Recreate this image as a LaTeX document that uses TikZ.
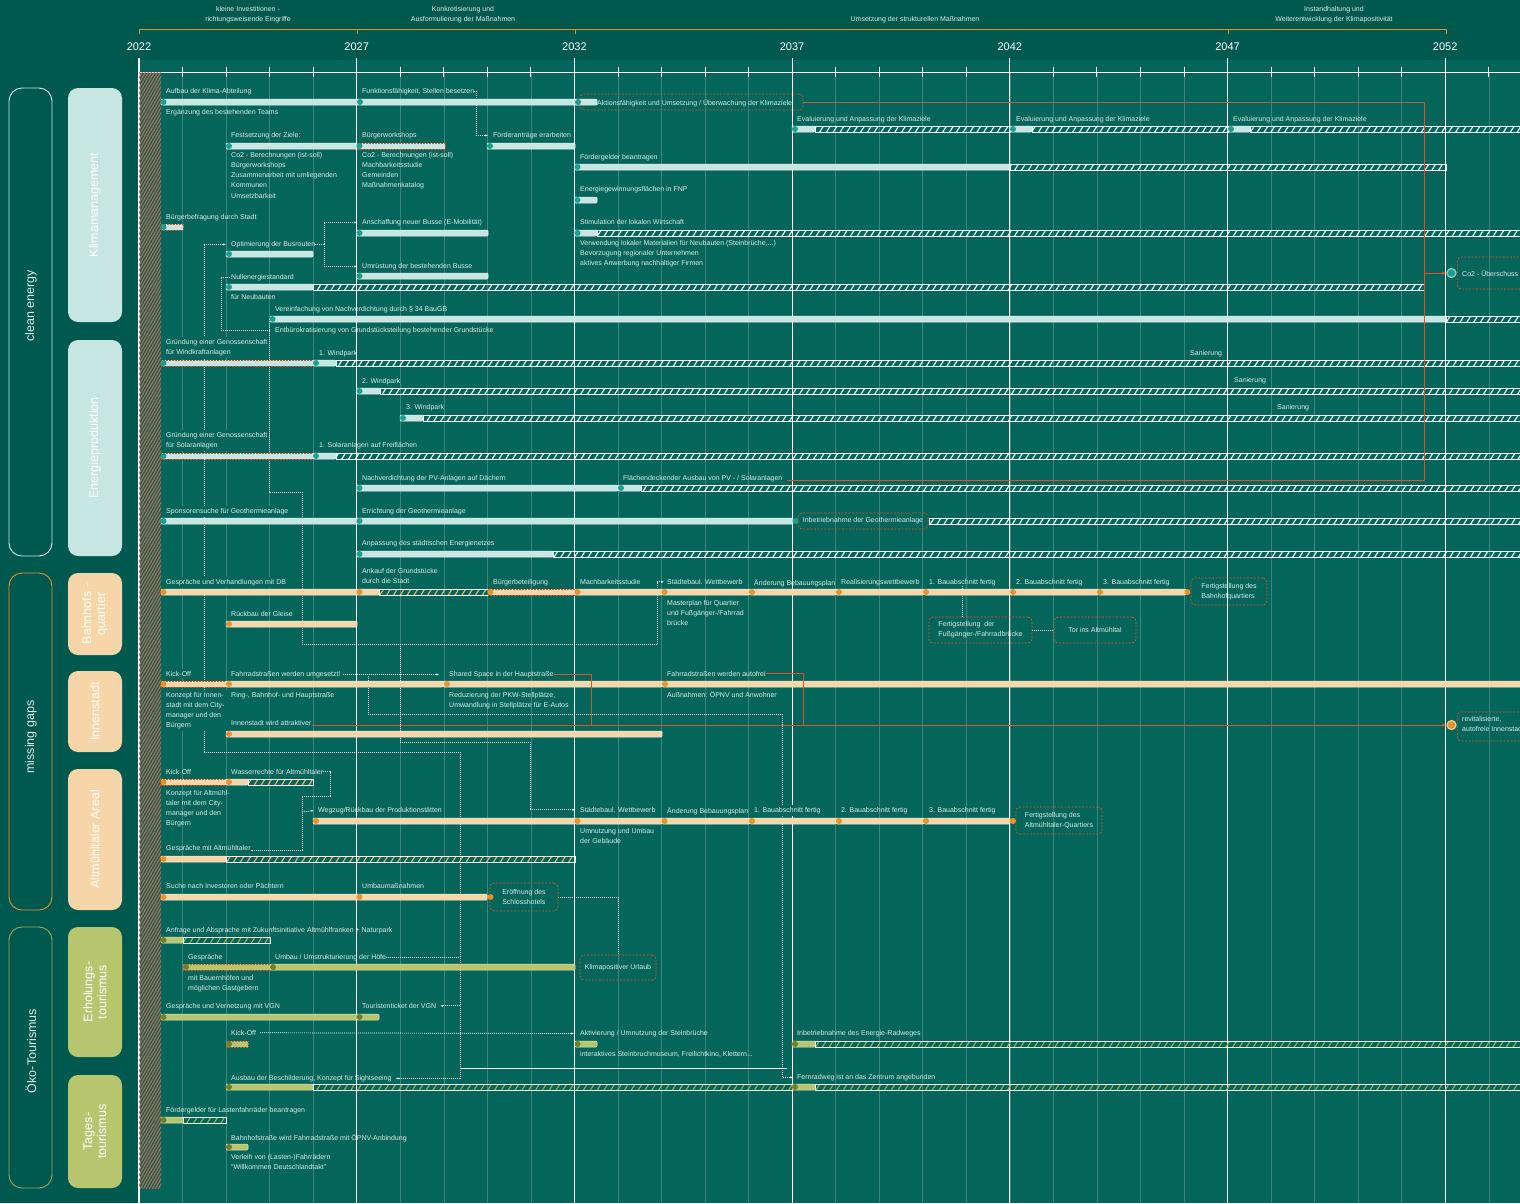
\documentclass[tikz,border=0pt]{standalone}
\usepackage{fontspec}
\setmainfont{Liberation Sans}
\usetikzlibrary{arrows.meta, patterns.meta, positioning, calc}

\definecolor{bgdark}{HTML}{00594F}
\definecolor{chartbg}{HTML}{04665A}
\definecolor{lbltext}{HTML}{DCEAE7}
\definecolor{kmfill}{HTML}{C8E6E1}
\definecolor{kmdotc}{HTML}{1BA08E}
\definecolor{bqfill}{HTML}{F6D6A8}
\definecolor{bqdotc}{HTML}{E8922A}
\definecolor{bqstripe}{HTML}{EDBB6E}
\definecolor{otfill}{HTML}{B8C56F}
\definecolor{otdotc}{HTML}{6F802C}
\definecolor{otstripe}{HTML}{9FAF4E}
\definecolor{redl}{HTML}{D9532C}
\definecolor{hdrc}{HTML}{E8901C}
\definecolor{bandc}{HTML}{C8664F}

\pgfdeclarelayer{bg}
\pgfdeclarelayer{links}
\pgfsetlayers{bg,links,main}

% one phase of a measure: style, start, end, row
\newcommand{\phase}[4]{\path[#1] (#2,#4-3) rectangle (#3,#4+3);}
% milestone dot: [extra options], style, x, row
\newcounter{msno}
\newcommand{\ms}[4][]{\stepcounter{msno}\node[#2,#1] (ms\themsno) at (#3,#4) {};}

\begin{document}
\begin{tikzpicture}[x=1pt, y=-1pt,
  lbl/.style={anchor=north west, inner sep=0pt, align=left, text=lbltext, font=\fontsize{7}{10.2}\selectfont},
  ko/.style={fill=chartbg, inner sep=2pt, xshift=-2pt, yshift=2pt},
  hd/.style={inner sep=0pt, align=center, text=lbltext, font=\fontsize{7}{10}\selectfont},
  yr/.style={inner sep=0pt, text=white, font=\fontsize{11}{11}\selectfont},
  minor/.style={white, opacity=.22, line width=.5pt},
  major/.style={white, line width=1.2pt},
  tickm/.style={white, line width=.8pt},
  cat/.style={draw=#1, line width=.9pt, rounded corners=13pt, inner sep=0pt},
  cattext/.style={rotate=90, inner sep=0pt, text=lbltext, font=\fontsize{12.5}{14}\selectfont},
  sub/.style={fill=#1, rounded corners=10pt, inner sep=0pt, rotate=90, align=center,
    text=white, font=\fontsize{12.5}{14}\selectfont},
  kmb/.style={fill=kmfill, draw=white!55!kmfill, line width=.5pt, rounded corners=1pt},
  kmr/.style={fill=kmfill, draw=redl, dash pattern=on .6pt off .9pt, line width=.45pt},
  kmh/.style={draw=white!85!kmfill, line width=.5pt,
    pattern={Lines[angle=58,distance=5.8pt,line width=1.1pt]}, pattern color=white},
  bqb/.style={fill=bqfill, draw=white!55!bqfill, line width=.5pt, rounded corners=1pt},
  bqr/.style={fill=bqfill, draw=redl, dash pattern=on .6pt off .9pt, line width=.45pt},
  bqh/.style={draw=white!85!bqfill, line width=.5pt,
    pattern={Lines[angle=58,distance=5.8pt,line width=1.1pt]}, pattern color=bqstripe},
  otb/.style={fill=otfill, draw=white!55!otfill, line width=.5pt, rounded corners=1pt},
  otr/.style={fill=otfill, draw=redl, dash pattern=on .6pt off .9pt, line width=.45pt},
  oth/.style={draw=white!80!otfill, line width=.5pt,
    pattern={Lines[angle=58,distance=5.8pt,line width=1.1pt]}, pattern color=otstripe},
  kmd/.style={circle, fill=kmdotc, inner sep=0pt, minimum size=6pt},
  bqd/.style={circle, fill=bqdotc, inner sep=0pt, minimum size=6pt},
  otd/.style={circle, fill=otdotc, inner sep=0pt, minimum size=6pt},
  goal/.style={circle, fill=#1, draw=#1!55!white, line width=1.3pt, inner sep=0pt, minimum size=9pt},
  msbox/.style={draw=redl, dash pattern=on 2pt off 1.5pt, line width=.7pt, rounded corners=4pt,
    inner sep=0pt, align=left, text=lbltext, font=\fontsize{7}{10.2}\selectfont},
  conn/.style={white, dash pattern=on 1pt off 1pt, line width=.7pt},
  tip/.style={-{Latex[length=2.6pt,width=2.2pt]}},
  redline/.style={redl, line width=.8pt},
  redtip/.style={-{Latex[length=4pt,width=3.5pt]}},
  wl/.style={white, line width=.7pt}
]
  \useasboundingbox (0,0) rectangle (1520,1203);
  \clip (0,0) rectangle (1520,1203);

  \begin{pgfonlayer}{bg}
  \fill[bgdark] (0,0) rectangle (1520,1203);
  \fill[chartbg] (139,60) rectangle (1520,1203);

  % Time axis
  \foreach \k in {0,...,31}
    \draw[minor] (139+43.54*\k,72) -- (139+43.54*\k,1203);
  \foreach \k in {1,...,31}
    \draw[tickm] (139+43.54*\k,67) -- (139+43.54*\k,77);
  \draw[tickm] (139,72) -- (1520,72);
  \foreach \k in {0,5,...,30}
    \draw[major] (139+43.54*\k,58) -- (139+43.54*\k,1203);

  % Start band
  \fill[pattern={Lines[angle=60,distance=2.6pt,line width=1.1pt]}, pattern color=bandc]
    (139,72) rectangle (161,1188);
  \end{pgfonlayer}

  \foreach \k/\yr in {0/2022,5/2027,10/2032,15/2037,20/2042,25/2047,30/2052}
    \node[yr] (y\yr) at (139+43.54*\k,47) {\yr};

  % Phases
  \draw[hdrc, line width=.9pt] (139,34) -- (139,29) -- (1446,29) -- (1446,34);
  \foreach \x in {357,575,1228}
    \draw[hdrc, line width=.9pt] (\x,29) -- (\x,34);
  \node[hd] (ph1) at (248,15) {kleine Investitionen -\\richtungsweisende Eingriffe};
  \node[hd] (ph2) at (463,15) {Konkretisierung und\\Ausformulierung der Maßnahmen};
  \node[hd] (ph3) at (915,20) {Umsetzung der strukturellen Maßnahmen};
  \node[hd] (ph4) at (1334,15) {Instandhaltung und\\Weiterentwicklung der Klimapositivität};

  % Categories
  \node[cat=kmfill!80!white, minimum width=43pt, minimum height=468pt] (clean) at (30.5,322) {};
  \node[cattext] (cleant) at (31,306) {clean energy};
  \node[cat=bqdotc, minimum width=43pt, minimum height=337pt] (gaps) at (30.5,741.5) {};
  \node[cattext] (gapst) at (31,737) {missing gaps};
  \node[cat=otfill!85!black, minimum width=43pt, minimum height=261pt] (oeko) at (30.5,1057.5) {};
  \node[cattext] (oekot) at (31,1051) {Öko-Tourismus};

  \node[sub=kmfill, minimum width=234pt, minimum height=54pt] (klima) at (95,205) {Klimamanagement};
  \node[sub=kmfill, minimum width=216pt, minimum height=54pt] (energie) at (95,448) {Energieproduktion};
  \node[sub=bqfill, minimum width=82pt, minimum height=54pt] (bahnhof) at (95,614) {Bahnhofs -\\quartier};
  \node[sub=bqfill, minimum width=81pt, minimum height=54pt] (innen) at (95,711.5) {Innenstadt};
  \node[sub=bqfill, minimum width=141pt, minimum height=54pt] (areal) at (95,839.5) {Altmühltaler Areal};
  \node[sub=otfill, minimum width=130pt, minimum height=54pt] (erhol) at (95,992) {Erholungs-\\tourismus};
  \node[sub=otfill, minimum width=113pt, minimum height=54pt] (tages) at (95,1131.5) {Tages-\\tourismus};

  % Klimamanagement
  \phase{kmb}{161}{357}{102} \ms{kmd}{163.5}{102}
  \phase{kmb}{357}{575}{102} \ms{kmd}{360}{102}
  \phase{kmb}{575}{597}{102} \ms{kmd}{578}{102}
  \phase{kmb}{792}{815}{129} \ms{kmd}{795}{129}
  \phase{kmh}{815}{1010}{129}
  \phase{kmb}{1010}{1032}{129} \ms{kmd}{1013}{129}
  \phase{kmh}{1032}{1228}{129}
  \phase{kmb}{1228}{1250}{129} \ms{kmd}{1231}{129}
  \phase{kmh}{1250}{1525}{129}
  \phase{kmb}{226}{357}{146} \ms{kmd}{229}{146}
  \phase{kmr}{357}{445}{146} \ms{kmd}{359.5}{146}
  \phase{kmb}{487}{575}{146} \ms{kmd}{490}{146}
  \phase{kmb}{575}{1010}{167} \ms{kmd}{577.5}{167}
  \phase{kmh}{1010}{1446}{167}
  \phase{kmb}{575}{597}{200} \ms{kmd}{577.5}{200}
  \phase{kmr}{161}{183}{227} \ms{kmd}{163.5}{227}
  \phase{kmb}{357}{488}{233} \ms{kmd}{359.5}{233}
  \phase{kmb}{575}{597}{233} \ms{kmd}{577.5}{233}
  \phase{kmh}{597}{1525}{233}
  \phase{kmb}{226}{313}{254} \ms{kmd}{229}{254}
  \phase{kmb}{357}{488}{276} \ms{kmd}{359.5}{276}
  \phase{kmb}{226}{313}{287} \ms{kmd}{229}{287}
  \phase{kmh}{313}{1424}{287}

  % Energieproduktion
  \phase{kmb}{270}{1446}{319} \ms[alias=dver]{kmd}{272.5}{319}
  \phase{kmh}{1446}{1525}{319}
  \phase{kmr}{161}{313}{363} \ms{kmd}{163.5}{363}
  \phase{kmb}{313}{336}{363} \ms{kmd}{316}{363}
  \phase{kmh}{336}{1525}{363}
  \phase{kmb}{357}{380}{391} \ms{kmd}{359.5}{391}
  \phase{kmh}{380}{1525}{391}
  \phase{kmb}{400}{423}{418} \ms{kmd}{403}{418}
  \phase{kmh}{423}{1525}{418}
  \phase{kmr}{161}{313}{456} \ms{kmd}{163.5}{456}
  \phase{kmb}{313}{336}{456} \ms{kmd}{316}{456}
  \phase{kmh}{336}{1525}{456}
  \phase{kmb}{357}{618}{488} \ms{kmd}{359.5}{488}
  \phase{kmb}{618}{641}{488} \ms{kmd}{621}{488}
  \phase{kmh}{641}{1525}{488}
  \phase{kmb}{161}{357}{521} \ms{kmd}{163.5}{521}
  \phase{kmb}{357}{793}{521} \ms{kmd}{359.5}{521}
  \ms{kmd}{795.5}{521}
  \phase{kmh}{929}{1525}{521}
  \phase{kmb}{357}{553}{554} \ms{kmd}{359.5}{554}
  \phase{kmh}{553}{1525}{554}

  % Bahnhofsquartier
  \phase{bqb}{161}{357}{592} \ms{bqd}{163.5}{592}
  \phase{bqb}{357}{379}{592} \ms{bqd}{359.5}{592}
  \phase{bqh}{379}{488}{592}
  \phase{bqr}{488}{575}{592} \ms{bqd}{490.5}{592}
  \phase{bqb}{575}{662}{592} \ms{bqd}{577.5}{592}
  \phase{bqb}{662}{750}{592} \ms{bqd}{664.5}{592}
  \phase{bqb}{750}{836}{592} \ms{bqd}{752}{592}
  \phase{bqb}{836}{924}{592} \ms{bqd}{839}{592}
  \phase{bqb}{924}{1010}{592} \ms{bqd}{926}{592}
  \phase{bqb}{1010}{1098}{592} \ms{bqd}{1013}{592}
  \phase{bqb}{1098}{1186}{592} \ms{bqd}{1100}{592}
  \ms{bqd}{1187.5}{592}
  \phase{bqb}{226}{357}{624} \ms{bqd}{229}{624}

  % Innenstadt
  \phase{bqr}{161}{226}{684} \ms{bqd}{163.5}{684}
  \phase{bqb}{226}{443}{684} \ms{bqd}{229}{684}
  \phase{bqb}{443}{662}{684} \ms{bqd}{447}{684}
  \phase{bqb}{662}{1525}{684} \ms{bqd}{665}{684}
  \phase{bqb}{226}{662}{734} \ms{bqd}{229}{734}

  % Altmuehltaler Areal
  \phase{bqr}{161}{226}{782} \ms{bqd}{163.5}{782}
  \phase{bqb}{226}{248}{782} \ms{bqd}{229}{782}
  \phase{bqh}{248}{313}{782}
  \phase{bqb}{313}{575}{821} \ms{bqd}{316}{821}
  \phase{bqb}{575}{662}{821} \ms{bqd}{577.5}{821}
  \phase{bqb}{662}{750}{821} \ms{bqd}{664.5}{821}
  \phase{bqb}{750}{836}{821} \ms{bqd}{752}{821}
  \phase{bqb}{836}{924}{821} \ms{bqd}{839}{821}
  \phase{bqb}{924}{1010}{821} \ms{bqd}{926}{821}
  \ms{bqd}{1013}{821}
  \phase{bqb}{161}{226}{859} \ms{bqd}{163.5}{859}
  \phase{bqh}{226}{575}{859}
  \phase{bqb}{161}{357}{897} \ms{bqd}{163.5}{897}
  \phase{bqb}{357}{487}{897} \ms{bqd}{359.5}{897}
  \ms{bqd}{490.5}{897}

  % Erholungstourismus
  \phase{otb}{161}{183}{940} \ms{otd}{163.5}{940}
  \phase{oth}{183}{270}{940}
  \phase{otr}{183}{270}{967} \ms{otd}{186}{967}
  \phase{otb}{270}{575}{967} \ms{otd}{273}{967}
  \phase{otb}{161}{357}{1017} \ms{otd}{163.5}{1017}
  \phase{otb}{357}{379}{1017} \ms{otd}{359.5}{1017}
  \phase{otr}{226}{248}{1044} \ms{otd}{229}{1044}
  \phase{otb}{575}{597}{1044} \ms{otd}{577.5}{1044}
  \phase{otb}{792}{815}{1044} \ms{otd}{795}{1044}
  \phase{oth}{815}{1525}{1044}
  \phase{otb}{226}{313}{1087} \ms{otd}{229}{1087}
  \phase{oth}{313}{792}{1087}
  \phase{otb}{792}{815}{1087} \ms{otd}{795}{1087}
  \phase{oth}{815}{1525}{1087}

  % Tagestourismus
  \phase{otb}{161}{183}{1120} \ms{otd}{163.5}{1120}
  \phase{oth}{183}{226}{1120}
  \phase{otb}{226}{248}{1147} \ms{otd}{229}{1147}

  % Goals
  \node[msbox, minimum width=223pt, minimum height=16pt] (aktion) at (691.5,102) {};
  \node[msbox, minimum width=90pt, minimum height=32pt, anchor=west] (co2box) at (1457,273) {};
  \node[goal=kmdotc] (co2) at (1451.5,273) {};
  \node[msbox, minimum width=130pt, minimum height=16pt, align=center] (geobox) at (863,521) {Inbetriebnahme der Geothermieanlage};
  \node[msbox, minimum width=76pt, minimum height=27pt] (bahnbox) at (1229,591.5) {Fertigstellung des\\Bahnhofquartiers};
  \node[msbox, minimum width=103pt, minimum height=26pt] (bruecke) at (980.5,630) {Fertigstellung~ der\\Fußgänger-/Fahrradbrücke};
  \node[msbox, minimum width=82pt, minimum height=26pt] (tor) at (1095,630) {Tor ins Altmühltal};
  \node[msbox, minimum width=90pt, minimum height=29pt, anchor=west] (revbox) at (1457,726.5) {};
  \node[goal=bqdotc] (revit) at (1451.5,725) {};
  \node[msbox, minimum width=86pt, minimum height=27pt] (altmbox) at (1059,820.5) {Fertigstellung des\\Altmühltaler-Quartiers};
  \node[msbox, minimum width=68pt, minimum height=28pt] (hotel) at (524,897) {Eröffnung des\\Schlosshotels};
  \node[msbox, minimum width=76pt, minimum height=25pt] (urlaub) at (618,967.5) {Klimapositiver Urlaub};

  % Labels
  \node[lbl] (aufb) at (166,88) {Aufbau der Klima-Abteilung};
  \node[lbl] (ergz) at (166,109) {Ergänzung des bestehenden Teams};
  \node[lbl] (funk) at (362,88) {Funktionsfähigkeit, Stellen besetzen};
  \node[lbl] (aktt) at (597,99) {Aktionsfähigkeit und Umsetzung / Überwachung der Klimaziele};
  \node[lbl] (eva1) at (797,116) {Evaluierung und Anpassung der Klimaziele};
  \node[lbl] (eva2) at (1016,116) {Evaluierung und Anpassung der Klimaziele};
  \node[lbl] (eva3) at (1233,116) {Evaluierung und Anpassung der Klimaziele};
  \node[lbl] (fest) at (231,132) {Festsetzung der Ziele:};
  \node[lbl] (festu) at (231,152) {Co2 - Berechnungen (ist-soll)\\Bürgerworkshops\\Zusammenarbeit mit umliegenden\\Kommunen\\Umsetzbarkeit};
  \node[lbl] (bwsh) at (362,132) {Bürgerworkshops};
  \node[lbl] (bwshu) at (362,152) {Co2 - Berechnungen (ist-soll)\\Machbarkeitsstudie\\Gemeinden\\Maßnahmenkatalog};
  \node[lbl] (foerd) at (493,132) {Förderanträge erarbeiten};
  \node[lbl] (fgeld) at (580,154) {Fördergelder beantragen};
  \node[lbl] (fnp) at (580,186) {Energiegewinnungsflächen in FNP};
  \node[lbl] (bbef) at (166,214) {Bürgerbefragung durch Stadt};
  \node[lbl] (ansch) at (362,219) {Anschaffung neuer Busse (E-Mobilität)};
  \node[lbl] (stim) at (580,219) {Stimulation der lokalen Wirtschaft};
  \node[lbl] (stimu) at (580,240) {Verwendung lokaler Materialien für Neubauten (Steinbrüche,...)\\Bevorzugung regionaler Unternehmen\\aktives Anwerbung nachhaltiger Firmen};
  \node[lbl] (opt) at (231,241) {Optimierung der Busrouten};
  \node[lbl] (umr) at (362,263) {Umrüstung der bestehenden Busse};
  \node[lbl] (null) at (231,274) {Nullenergiestandard};
  \node[lbl] (nullu) at (231,294) {für Neubauten};
  \node[lbl] (co2t) at (1462,270) {Co2 - Überschuss};

  \node[lbl] (vere) at (275,306) {Vereinfachung von Nachverdichtung durch § 34 BauGB};
  \node[lbl] (entb) at (275,327) {Entbürokratisierung von Grundstücksteilung bestehender Grundstücke};
  \node[lbl, ko] (gwin) at (166,339) {Gründung einer Genossenschaft\\für Windkraftanlagen};
  \node[lbl] (wp1) at (319,350) {1. Windpark};
  \node[lbl] (san1) at (1190,350) {Sanierung};
  \node[lbl] (wp2) at (362,378) {2. Windpark};
  \node[lbl] (san2) at (1234,377) {Sanierung};
  \node[lbl] (wp3) at (406,404) {3. Windpark};
  \node[lbl] (san3) at (1277,404) {Sanierung};
  \node[lbl, ko] (gsol) at (166,432) {Gründung einer Genossenschaft\\für Solaranlagen};
  \node[lbl] (sol1) at (319,442) {1. Solaranlagen auf Freiflächen};
  \node[lbl] (pvd) at (362,475) {Nachverdichtung der PV-Anlagen auf Dächern};
  \node[lbl] (flae) at (623,475) {Flächendeckender Ausbau von PV - / Solaranlagen};
  \node[lbl, ko] (spon) at (166,508) {Sponsorensuche für Geothermieanlage};
  \node[lbl] (erri) at (362,508) {Errichtung der Geothermieanlage};
  \node[lbl] (anpa) at (362,540) {Anpassung des städtischen Energienetzes};

  \node[lbl, ko] (gdb) at (166,579) {Gespräche und Verhandlungen mit DB};
  \node[lbl] (anka) at (362,568) {Ankauf der Grundstücke\\durch die Stadt};
  \node[lbl] (bbet) at (493,579) {Bürgerbeteiligung};
  \node[lbl] (mach) at (580,579) {Machbarkeitsstudie};
  \node[lbl] (stw) at (667,579) {Städtebaul. Wettbewerb};
  \node[lbl] (mast) at (667,600) {Masterplan für Quartier\\und Fußgänger-/Fahrrad\\brücke};
  \node[lbl] (aebp) at (754,579) {Änderung Bebauungsplan};
  \node[lbl] (real) at (841,579) {Realisierungswettbewerb};
  \node[lbl] (bau1) at (929,579) {1. Bauabschnitt fertig};
  \node[lbl] (bau2) at (1016,579) {2. Bauabschnitt fertig};
  \node[lbl] (bau3) at (1103,579) {3. Bauabschnitt fertig};
  \node[lbl] (rueck) at (231,611) {Rückbau der Gleise};

  \node[lbl, ko] (kick1) at (166,671) {Kick-Off};
  \node[lbl, ko] (kon1) at (166,692) {Konzept für Innen-\\stadt mit dem City-\\manager und den\\Bürgern};
  \node[lbl] (fus) at (231,671) {Fahrradstraßen werden umgesetzt!};
  \node[lbl] (ring) at (231,692) {Ring-, Bahnhof- und Hauptstraße};
  \node[lbl] (shar) at (449,671) {Shared Space in der Hauptstraße};
  \node[lbl] (redu) at (449,692) {Reduzierung der PKW-Stellplätze,\\Umwandlung in Stellplätze für E-Autos};
  \node[lbl] (auto) at (667,671) {Fahrradstraßen werden autofrei};
  \node[lbl] (ausn) at (667,691) {Außnahmen: ÖPNV und Anwohner};
  \node[lbl] (attr) at (231,720) {Innenstadt wird attraktiver};
  \node[lbl] (revt) at (1462,716) {revitalisierte,\\autofreie Innenstadt};

  \node[lbl] (kick2) at (166,769) {Kick-Off};
  \node[lbl] (kon2) at (166,790) {Konzept für Altmühl-\\taler mit dem City-\\manager und den\\Bürgern};
  \node[lbl] (wass) at (231,769) {Wasserrechte für Altmühltaler};
  \node[lbl] (wegz) at (318,807) {Wegzug/Rückbau der Produktionstätten};
  \node[lbl] (stw2) at (580,807) {Städtebaul. Wettbewerb};
  \node[lbl] (umnu) at (580,828) {Umnutzung und Umbau\\der Gebäude};
  \node[lbl] (aebp2) at (667,807) {Änderung Bebauungsplan};
  \node[lbl, ko] (bau21) at (754,807) {1. Bauabschnitt fertig};
  \node[lbl] (bau22) at (841,807) {2. Bauabschnitt fertig};
  \node[lbl] (bau23) at (929,807) {3. Bauabschnitt fertig};
  \node[lbl] (galt) at (166,845) {Gespräche mit Altmühltaler};
  \node[lbl] (such) at (166,883) {Suche nach Investoren oder Pächtern};
  \node[lbl] (umba) at (362,883) {Umbaumaßnahmen};

  \node[lbl] (anfr) at (166,927) {Anfrage und Absprache mit Zukunftsinitiative Altmühlfranken + Naturpark};
  \node[lbl] (gesp) at (188,954) {Gespräche};
  \node[lbl] (gespu) at (188,975) {mit Bauernhöfen und\\möglichen Gastgebern};
  \node[lbl] (hoef) at (275,954) {Umbau / Umstrukturierung der Höfe};
  \node[lbl] (vgn) at (166,1003) {Gespräche und Vernetzung mit VGN};
  \node[lbl] (tour) at (362,1003) {Touristenticket der VGN};
  \node[lbl] (kick3) at (231,1030) {Kick-Off};
  \node[lbl] (aktv) at (580,1030) {Aktivierung / Umnutzung der Steinbrüche};
  \node[lbl] (aktvu) at (580,1051) {interaktives Steinbruchmuseum, Freilichtkino, Klettern...};
  \node[lbl] (erad) at (797,1030) {Inbetriebnahme des Energie-Radweges};
  \node[lbl] (besc) at (231,1075) {Ausbau der Beschilderung, Konzept für Sightseeing};
  \node[lbl] (fern) at (797,1074) {Fernradweg ist an das Zentrum angebunden};

  \node[lbl] (last) at (166,1107) {Fördergelder für Lastenfahrräder beantragen};
  \node[lbl] (bhst) at (231,1134) {Bahnhofstraße wird Fahrradstraße mit ÖPNV-Anbindung};
  \node[lbl] (verl) at (231,1154) {Verleih von (Lasten-)Fahrrädern\\“Willkommen Deutschlandtakt”};

  % Dependencies
  \coordinate (j1) at (204,752);
  \coordinate (j2) at (460,752);
  \coordinate (c1) at (302,492);
  \coordinate (c2) at (657,644);
  \coordinate (c4) at (400,644);
  \coordinate (c5) at (530,742);
  \coordinate (i1) at (368,676);
  \coordinate (i2) at (782,714);
  \coordinate (a1) at (330,796);
  \coordinate (a2) at (302,850);
  \coordinate (a3) at (302,812);
  \coordinate (w1) at (460,1068);
  \coordinate (w2) at (787,1068);
  \coordinate (fork) at ([xshift=9pt]opt.east);
  \coordinate (r1) at (1424,480);
  \coordinate (r0) at (787,480);
  \coordinate (r2) at (591,725);
  \coordinate (r3) at (803,725);

  \begin{pgfonlayer}{links}
  \draw[conn, tip] (funk.east) -- ++(2,0) |- ([xshift=-5pt]foerd.west);
  \draw[conn] (opt.east) -- (fork);
  \draw[conn, tip] (fork) |- ([xshift=-5pt]ansch.west);
  \draw[conn, tip] (fork) |- ([xshift=-5pt]umr.west);
  \draw[conn, tip] (j1) |- ([xshift=-5pt]opt.west);
  \draw[conn] (j1) -- (j2);
  \draw[conn, tip] (j2) |- ([xshift=4pt]besc.east);
  \draw[conn] (hoef.east) -- (hoef.east -| j2);
  \draw[conn, tip] (tour.east -| j2) -- ([xshift=4pt]tour.east);
  \draw[conn, tip] ([xshift=4pt]kick3.east) -- ([xshift=-6pt]aktv.west);
  \draw[wl] (w1) -- (w2);
  \draw[conn] ([xshift=-1pt]null.west) -- ++(-9,0) |- ([xshift=-5pt]entb.west);
  \draw[conn] (dver.west) |- (c1) |- (c2);
  \draw[conn, tip] (c2) |- ([xshift=-3pt]stw.west);
  \draw[conn, tip] (c4) |- (c5) |- ([xshift=-5pt]stw2.west);
  \draw[conn, tip] ([xshift=2pt]fus.east) -- ([xshift=-10pt]shar.west);
  \draw[conn] (i1) |- (i2);
  \draw[conn, tip] (i2) |- ([xshift=-4pt]fern.west);
  \draw[conn] (bau1.south) -- (bau1.south |- bruecke.north);
  \draw[conn] (bruecke.east) -- (tor.west);
  \draw[conn] (wass.east) -| (a1) -| (a2) -- (a2 -| galt.east);
  \draw[conn, tip] (a3) -- ([xshift=-4pt]wegz.west);
  \draw[conn] (hotel.east) -| (urlaub.north);
  \end{pgfonlayer}

  % Goal lines
  \draw[redline] (aktion.east) -| (r1) -- (r0);
  \draw[redline, redtip] (r1 |- co2) -- (co2.west);
  \draw[redline] (shar.east) -| (r2);
  \draw[redline] (auto.east) -| (r3);
  \draw[redline, redtip] (attr.east |- revit) -- (revit.west);
\end{tikzpicture}
\end{document}
